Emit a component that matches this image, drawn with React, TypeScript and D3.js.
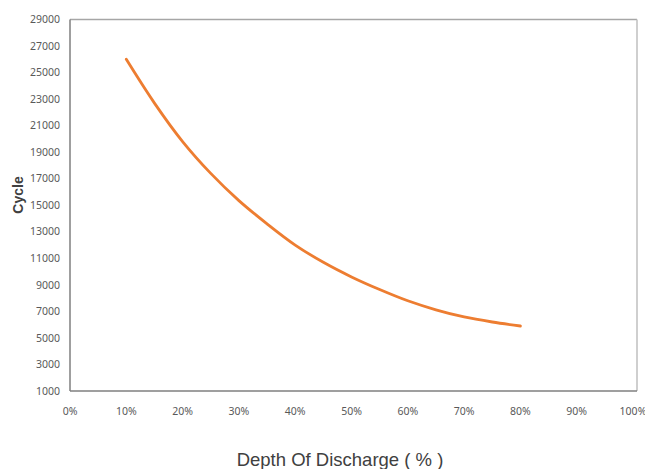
import * as d3 from 'd3';

// ─── Data ───────────────────────────────────────────────────
const depthPct = [10, 15, 20, 25, 30, 35, 40, 45, 50, 55, 60, 65, 70, 75, 80];
const cycles = [26000, 22700, 19800, 17400, 15350, 13600, 12000, 10700, 9600, 8650, 7800, 7120, 6580, 6200, 5900];

const xTicks = [0, 10, 20, 30, 40, 50, 60, 70, 80, 90, 100];
const yTicks = [1000, 3000, 5000, 7000, 9000, 11000, 13000, 15000, 17000, 19000, 21000, 23000, 25000, 27000, 29000];

const W = 645;
const H = 469;
const left = 70;
const top = 19.5;
const bottom = 391;
const frameRight = 637;

export default function App() {
  const x = d3.scaleLinear().domain([0, 100]).range([left, 633]);
  const y = d3.scaleLinear().domain([1000, 29000]).range([bottom, top]);

  const pts: [number, number][] = depthPct.map((d, i) => [d, cycles[i]]);
  const line = d3
    .line<[number, number]>()
    .x((d) => x(d[0]))
    .y((d) => y(d[1]))
    .curve(d3.curveCatmullRom.alpha(0.5));

  const tickFont = { fontFamily: 'Noto Sans, sans-serif', fontSize: 10.5, fill: '#595959' };

  return (
    <div style={{ position: 'fixed', left: 0, top: 0, width: W, height: H, background: '#fff' }}>
      <svg width={W} height={H} style={{ display: 'block' }}>
        <rect x={0} y={0} width={W} height={H} fill="#fff" />

        {/* frame */}
        <line x1={left} x2={frameRight} y1={top} y2={top} stroke="#a6a6a6" strokeWidth={1.5} />
        <line x1={frameRight} x2={frameRight} y1={top} y2={bottom} stroke="#bfbfbf" strokeWidth={1.5} />
        <line x1={left} x2={left} y1={top} y2={bottom} stroke="#7f7f7f" strokeWidth={1.5} />
        <line x1={left} x2={frameRight} y1={bottom} y2={bottom} stroke="#7f7f7f" strokeWidth={1.5} />

        {/* y tick labels */}
        {yTicks.map((t) => (
          <text key={t} x={60} y={y(t)} dy="0.35em" textAnchor="end" {...tickFont}>
            {t}
          </text>
        ))}

        {/* x tick labels */}
        {xTicks.map((t) => (
          <text key={t} x={x(t)} y={415} textAnchor="middle" {...tickFont}>
            {t}%
          </text>
        ))}

        {/* curve */}
        <path d={line(pts) ?? ''} fill="none" stroke="#ed7d31" strokeWidth={2.8} strokeLinecap="round" />

        {/* axis titles */}
        <text
          x={340}
          y={466}
          textAnchor="middle"
          fontFamily="Liberation Sans, Arial, sans-serif"
          fontSize={18.5}
          fill="#404040"
        >
          Depth Of Discharge ( % )
        </text>
        <text
          transform={`translate(23, 195) rotate(-90)`}
          textAnchor="middle"
          fontFamily="Liberation Sans, Arial, sans-serif"
          fontSize={14}
          fontWeight="bold"
          fill="#404040"
        >
          Cycle
        </text>
      </svg>
    </div>
  );
}
